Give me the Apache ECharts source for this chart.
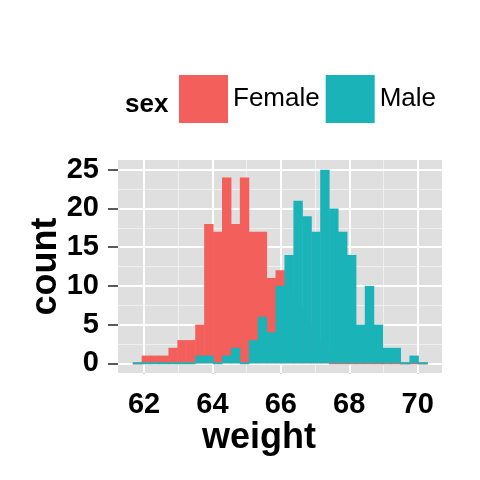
<!DOCTYPE html>
<html>
<head>
<meta charset="utf-8">
<script src="https://cdn.jsdelivr.net/npm/echarts@6/dist/echarts.min.js"></script>
<style>
  html, body { margin: 0; padding: 0; background: #fff; }
  #chart { width: 480px; height: 480px; }
</style>
</head>
<body>
<div id="chart"></div>
<script>
// histogram bins (33 bins)
var binStart = 61.669;
var binWidth = 0.261;
var femaleCounts = [0, 1, 1, 1, 2, 3, 3, 5, 18, 17, 24, 18, 24, 17, 17, 11, 12,
                    9, 7, 5, 3, 2, 0, 0, 0, 0, 0, 0, 0, 0, 0, 0, 0];
var maleCounts = [0, 0, 0, 0, 0, 0, 0, 1, 1, 0, 1, 2, 0, 3, 6, 4, 10,
                  14, 21, 19, 17, 25, 20, 17, 14, 5, 10, 5, 2, 2, 0, 1, 0];
var sexNames = ['Female', 'Male'];
var xTicks = [62, 64, 66, 68, 70];
var xMinor = [63, 65, 67, 69];
var yTicks = [0, 5, 10, 15, 20, 25];
var yMinor = [2.5, 7.5, 12.5, 17.5, 22.5];

var chart = echarts.init(document.getElementById('chart'));

function toBins(counts) {
    return counts.map(function (c, i) {
        var x0 = binStart + i * binWidth;
        return [x0, x0 + binWidth, c];
    });
}

function renderBar(params, api) {
    var p0 = api.coord([api.value(0), api.value(2)]);
    var p1 = api.coord([api.value(1), 0]);
    var h = p1[1] - p0[1];
    var y = p0[1];
    if (h < 2) { y = p1[1] - 1; h = 2; }
    return {
        type: 'rect',
        shape: { x: p0[0], y: y, width: p1[0] - p0[0] + 0.5, height: h },
        style: { fill: api.visual('color') }
    };
}

var font = '"Liberation Sans", Arial, sans-serif';
var gridLines = [];
xMinor.forEach(function (v) { gridLines.push({ xAxis: v, lineStyle: { width: 1, color: '#f0f0f0', type: 'solid' } }); });
yMinor.forEach(function (v) { gridLines.push({ yAxis: v, lineStyle: { width: 1, color: '#f0f0f0', type: 'solid' } }); });
xTicks.forEach(function (v) { gridLines.push({ xAxis: v, lineStyle: { width: 2, color: '#ffffff', type: 'solid' } }); });
yTicks.forEach(function (v) { gridLines.push({ yAxis: v, lineStyle: { width: 2, color: '#ffffff', type: 'solid' } }); });

var option = {
    animation: false,
    grid: {
        left: 118, top: 160, width: 324, height: 213,
        show: true, backgroundColor: '#dfdfdf', borderWidth: 0
    },
    graphic: [{
        type: 'text', left: 125, top: 92,
        style: { text: 'sex', font: 'bold 26px ' + font, fill: '#000' }
    }],
    legend: {
        data: sexNames,
        left: 179, top: 75, padding: 0,
        itemWidth: 49, itemHeight: 48, itemGap: 6,
        icon: 'rect',
        textStyle: { fontSize: 26, fontFamily: font, color: '#000' }
    },
    xAxis: {
        type: 'value', min: 61.238, max: 70.712,
        name: 'weight', nameLocation: 'middle', nameGap: 42,
        nameTextStyle: { fontSize: 36, fontWeight: 'bold', fontFamily: font, color: '#000', padding: [0, 42, 0, 0] },
        axisLine: { show: false },
        axisTick: { show: true, customValues: xTicks, length: 10, lineStyle: { width: 2, color: '#5a5a5a' } },
        axisLabel: { customValues: xTicks, margin: 17, fontSize: 29, fontWeight: 'bold', fontFamily: font, color: '#000' },
        splitLine: { show: false }
    },
    yAxis: {
        type: 'value', min: -1.25, max: 26.25,
        name: 'count', nameLocation: 'middle', nameGap: 54, nameMoveOverlap: false,
        nameTextStyle: { fontSize: 36, fontWeight: 'bold', fontFamily: font, color: '#000' },
        axisLine: { show: false },
        axisTick: { show: true, customValues: yTicks, length: 10, lineStyle: { width: 2, color: '#5a5a5a' } },
        axisLabel: { customValues: yTicks, margin: 19, fontSize: 29, fontWeight: 'bold', fontFamily: font, color: '#000' },
        splitLine: { show: false }
    },
    series: [{
        name: 'grid', type: 'line', data: [], z: 1, silent: true,
        markLine: { silent: true, z: 1, symbol: ['none', 'none'], label: { show: false }, data: gridLines }
    }, {
        name: 'Female', type: 'custom', z: 2,
        itemStyle: { color: '#f35f5b' },
        renderItem: renderBar,
        data: toBins(femaleCounts)
    }, {
        name: 'Male', type: 'custom', z: 3,
        itemStyle: { color: '#1ab3b8' },
        renderItem: renderBar,
        data: toBins(maleCounts)
    }]
};

chart.setOption(option);
</script>
</body>
</html>
